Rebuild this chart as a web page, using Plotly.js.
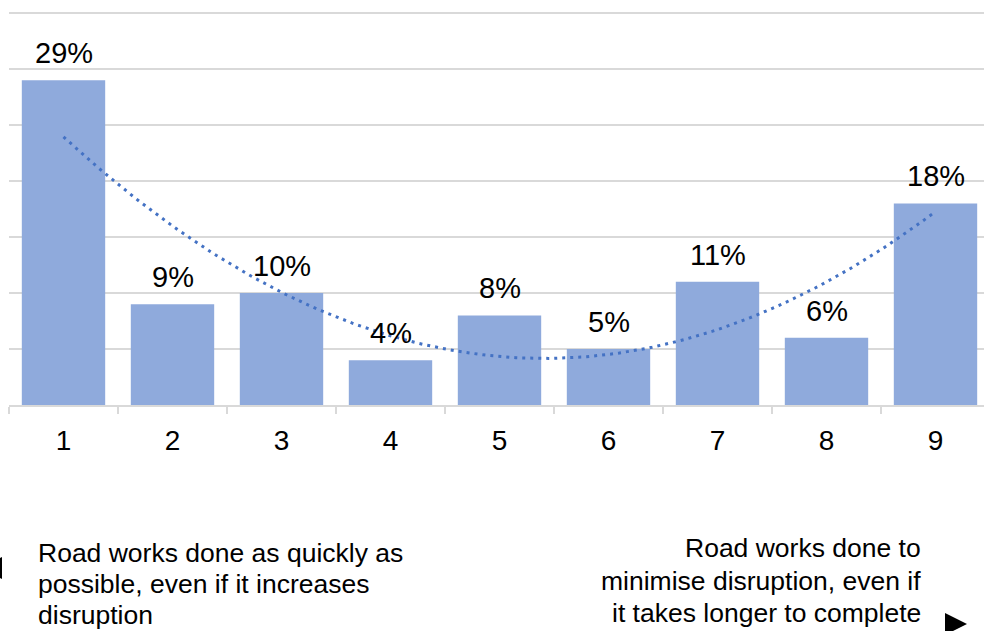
<!DOCTYPE html>
<html>
<head>
<meta charset="utf-8">
<script src="https://cdn.plot.ly/plotly-3.0.1.min.js"></script>
<style>
  html, body { margin: 0; padding: 0; background: #fff; }
  #chart { width: 984px; height: 631px; }
</style>
</head>
<body>
<div id="chart"></div>
<script>
// Scale position 1 (left) to 9 (right), share of respondents in %
const positions = [1, 2, 3, 4, 5, 6, 7, 8, 9];
const tickLabels = ['1', '2', '3', '4', '5', '6', '7', '8', '9'];
const shares = [29, 9, 10, 4, 8, 5, 11, 6, 18];
const gridValues = [0, 5, 10, 15, 20, 25, 30, 35];
const leftCaption = ['Road works done as quickly as', 'possible, even if it increases', 'disruption'];
const rightCaption = ['Road works done to', 'minimise disruption, even if', 'it takes longer to complete'];

const W = 984, H = 631;
const M = { l: 9, r: 0, t: 10, b: 226 };
const plotW = W - M.l - M.r, plotH = H - M.t - M.b;
const px = x => (x - M.l) / plotW;          // page pixel -> paper x
const py = y => (H - M.b - y) / plotH;      // page pixel -> paper y

// Second-order polynomial trendline (least squares) over positions 1..9
function quadFit(xs, ys) {
  const n = xs.length;
  let S = [0, 0, 0, 0, 0], T = [0, 0, 0];
  for (let i = 0; i < n; i++) {
    for (let k = 0; k < 5; k++) S[k] += Math.pow(xs[i], k);
    for (let k = 0; k < 3; k++) T[k] += ys[i] * Math.pow(xs[i], k);
  }
  const A = [[S[0], S[1], S[2], T[0]], [S[1], S[2], S[3], T[1]], [S[2], S[3], S[4], T[2]]];
  for (let c = 0; c < 3; c++) {
    for (let r = c + 1; r < 3; r++) {
      const f = A[r][c] / A[c][c];
      for (let k = c; k < 4; k++) A[r][k] -= f * A[c][k];
    }
  }
  const coef = [0, 0, 0];
  for (let r = 2; r >= 0; r--) {
    let s = A[r][3];
    for (let k = r + 1; k < 3; k++) s -= A[r][k] * coef[k];
    coef[r] = s / A[r][r];
  }
  return coef;
}
const coef = quadFit(positions, shares);
const trendX = [], trendY = [];
const x0 = positions[0], x1 = positions[positions.length - 1];
for (let i = 0; i <= 160; i++) {
  const x = x0 + (x1 - x0) * i / 160;
  trendX.push(x);
  trendY.push(coef[0] + coef[1] * x + coef[2] * x * x);
}

const FONT = 'Liberation Sans, Arial, sans-serif';
const xRange = [0.5, 0.5 + plotW / 109];
const yRange = [0, plotH / 11.2];   // 11.2 px per percentage point

const bars = {
  type: 'bar',
  x: positions,
  y: shares,
  marker: { color: '#8FAADC' },
  width: 0.765,
  hoverinfo: 'none'
};
const trend = {
  type: 'scatter',
  mode: 'lines',
  x: trendX,
  y: trendY,
  xaxis: 'x2',
  line: { color: '#4472C4', width: 3, dash: '3px,5px' },
  hoverinfo: 'none'
};

const annotations = shares.map((v, i) => ({
  x: positions[i], y: v, xref: 'x', yref: 'y',
  text: v + '%', showarrow: false,
  xanchor: 'center', yanchor: 'bottom', yshift: 9,
  font: { family: FONT, size: 29, color: '#000' }
}));
const leftBase = [561.5, 592.5, 623.5];
leftCaption.forEach((t, i) => annotations.push({
  xref: 'paper', yref: 'paper', x: px(36), y: py(leftBase[i] - 9),
  xanchor: 'left', yanchor: 'middle', text: t, showarrow: false,
  font: { family: FONT, size: 26.5, color: '#000' }
}));
const rightBase = [557, 589.5, 622];
rightCaption.forEach((t, i) => annotations.push({
  xref: 'paper', yref: 'paper', x: px(923), y: py(rightBase[i] - 9),
  xanchor: 'right', yanchor: 'middle', text: t, showarrow: false,
  font: { family: FONT, size: 26.5, color: '#000' }
}));

// Direction pointers at the two ends of the scale
const tri = pts => 'M ' + pts.map(p => px(p[0]) + ',' + py(p[1])).join(' L ') + ' Z';
const shapes = [
  { type: 'path', xref: 'paper', yref: 'paper', path: tri([[2, 557], [2, 579], [-20, 568]]),
    fillcolor: '#000', line: { width: 0 } },
  { type: 'path', xref: 'paper', yref: 'paper', path: tri([[945, 613], [967, 624], [945, 635]]),
    fillcolor: '#000', line: { width: 0 } }
];

const boundaries = positions.map(p => p - 0.5).concat([positions[positions.length - 1] + 0.5]);

const layout = {
  width: W, height: H,
  margin: M,
  paper_bgcolor: '#fff', plot_bgcolor: '#fff',
  showlegend: false,
  xaxis: {
    range: xRange,
    tickmode: 'array', tickvals: positions, ticktext: tickLabels,
    showgrid: false, zeroline: false, showline: false,
    ticks: '', ticklabelstandoff: 16,
    tickfont: { family: FONT, size: 28, color: '#000' },
    fixedrange: true
  },
  // Baseline with tick marks between the scale positions
  xaxis2: {
    overlaying: 'x', side: 'bottom',
    range: xRange,
    tickmode: 'array', tickvals: boundaries,
    showticklabels: false, showgrid: false, zeroline: false,
    showline: true, linecolor: '#D9D9D9', linewidth: 2,
    ticks: 'outside', ticklen: 7, tickwidth: 2, tickcolor: '#D9D9D9',
    fixedrange: true
  },
  yaxis: {
    range: yRange, tickmode: 'array', tickvals: gridValues,
    showgrid: true, gridcolor: '#D9D9D9', gridwidth: 2,
    zeroline: false, showticklabels: false, ticks: '',
    fixedrange: true
  },
  annotations: annotations,
  shapes: shapes
};

Plotly.newPlot('chart', [bars, trend], layout, { displayModeBar: false, staticPlot: true });
</script>
</body>
</html>
